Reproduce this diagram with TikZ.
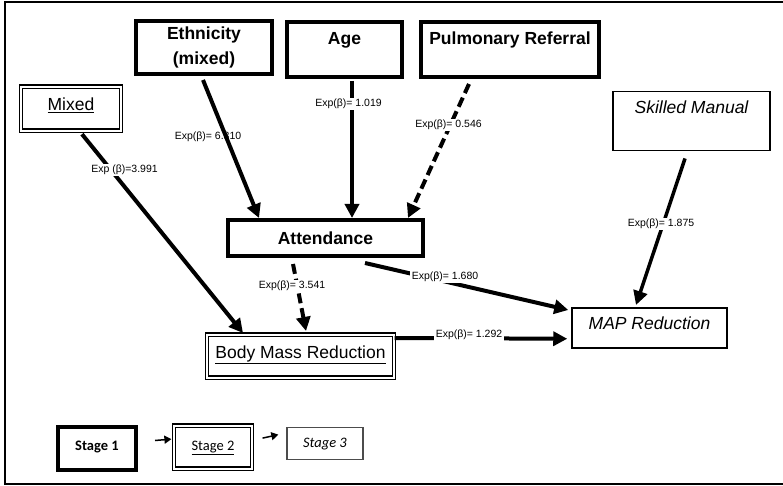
\documentclass[tikz,border=0pt]{standalone}
\usepackage{fontspec}
\setmainfont{Liberation Sans}
\newfontfamily\calfont{Carlito}
\usetikzlibrary{arrows.meta,calc}
\begin{document}
\begin{tikzpicture}[x=1pt,y=-1pt,
  thickbox/.style={draw=black,line width=4pt,inner sep=0pt,font=\fontsize{17.5}{22}\selectfont\bfseries},
  dblbox/.style={draw=black,double=white,double distance=2pt,line width=1.2pt,inner sep=0pt,font=\fontsize{17.5}{22}\selectfont},
  thinbox/.style={draw=black,line width=1.5pt,inner sep=0pt,font=\fontsize{17.5}{22}\selectfont\itshape},
  lbl/.style={font=\fontsize{10.5}{12}\selectfont,inner sep=1.5pt,fill=white},
  arr/.style={line width=4pt,-{Triangle[length=14pt,width=14pt]}},
  darr/.style={arr,dash pattern=on 10pt off 5pt},
  legarr/.style={line width=1.5pt,-{Triangle[length=7pt,width=8pt]}}
]
\useasboundingbox (0,0) rectangle (783,486);
\begin{scope}
\clip (0,0) rectangle (783,486);
\draw[line width=2pt] (800,2) -- (5,2) -- (5,484) -- (800,484);
\end{scope}

% nodes
\node[thickbox,minimum width=136pt,minimum height=53pt,align=center,font=\fontsize{17.5}{24.5}\selectfont\bfseries] (eth) at (204,47.5) {Ethnicity\\(mixed)};
\node[thickbox,anchor=north,minimum width=115pt,text height=23pt,text depth=32pt] (age) at (344.5,20) {Age};
\node[thickbox,anchor=north,minimum width=178pt,text height=23pt,text depth=32pt] (pul) at (510,20) {Pulmonary Referral};
\node[dblbox,anchor=north,minimum width=100pt,text height=24pt,text depth=20pt] (mix) at (71,86) {\underline{Mixed}};
\node[thinbox,anchor=north,minimum width=157pt,text height=22pt,text depth=37pt] (sk) at (691.5,91) {Skilled Manual};
\node[thickbox,anchor=north,minimum width=195pt,text height=24pt,text depth=12pt] (att) at (325.5,218) {Attendance};
\node[dblbox,anchor=north,minimum width=187pt,text height=24pt,text depth=19pt] (bmr) at (300.5,334) {\underline{Body Mass Reduction}};
\node[thinbox,anchor=north,minimum width=155pt,text height=22pt,text depth=18pt] (map) at (649.5,307) {MAP Reduction};

% legend
\node[thickbox,font=\calfont\fontsize{14.5}{16}\selectfont\bfseries,anchor=north,minimum width=78pt,text height=23pt,text depth=20pt] (s1) at (97,425) {Stage 1};
\node[dblbox,font=\calfont\fontsize{14.5}{16}\selectfont,anchor=north,minimum width=78pt,text height=25pt,text depth=18pt] (s2) at (213,425) {\underline{Stage 2}};
\node[thinbox,draw=black!70,line width=1.3pt,font=\calfont\fontsize{14.5}{16}\selectfont\itshape,anchor=north,minimum width=76pt,text height=20pt,text depth=12pt] (s3) at (325,427) {Stage 3};
\draw[legarr] ($(s1.east)+(17,-8)$) -- ($(s2.west)+(-2,-8)$);
\draw[legarr] ($(s2.east)+(10,-9)$) -- ($(s3.west)+(-8,-9)$);

% connectors
\draw[arr] ($(eth.south)+(-1,4)$) -- ($(att.north)+(-66.5,0)$);
\draw[arr] ($(age.south)+(7.5,2)$) -- ($(att.north)+(26.5,0)$);
\draw[darr] ($(pul.south)+(-41,5)$) -- ($(att.north east)+(-17,0)$);
\draw[arr] ($(mix.south)+(11,3)$) -- ($(bmr.north)+(-57.5,-1)$);
\draw[arr,line width=3.5pt] ($(sk.south)+(-6.5,7)$) -- ($(map.north)+(-13.5,-2)$);
\draw[arr] ($(att.south)+(39.5,5)$) -- ($(map.north west)+(-3,3)$);
\draw[darr] ($(att.south)+(-32.5,6)$) -- ($(bmr.north)+(5.5,-3)$);
\draw[arr] ($(bmr.north east)+(0,4)$) -- ($(map.west)+(-4,11)$);

% labels
\node[lbl,fill=none] (l1) at (208,137) {Exp(β)= 6.310};
\node[lbl] (l2) at (348.5,104) {Exp(β)= 1.019};
\node[lbl] (l3) at (448.5,125) {Exp(β)= 0.546};
\node[lbl] (l4) at (124.5,170) {Exp (β)=3.991};
\node[lbl] (l5) at (661,224) {Exp(β)= 1.875};
\node[lbl] (l6) at (445,277) {Exp(β)= 1.680};
\node[lbl] (l7) at (292,286) {Exp(β)= 3.541};
\node[lbl] (l8) at (469,335) {Exp(β)= 1.292};
\end{tikzpicture}
\end{document}
